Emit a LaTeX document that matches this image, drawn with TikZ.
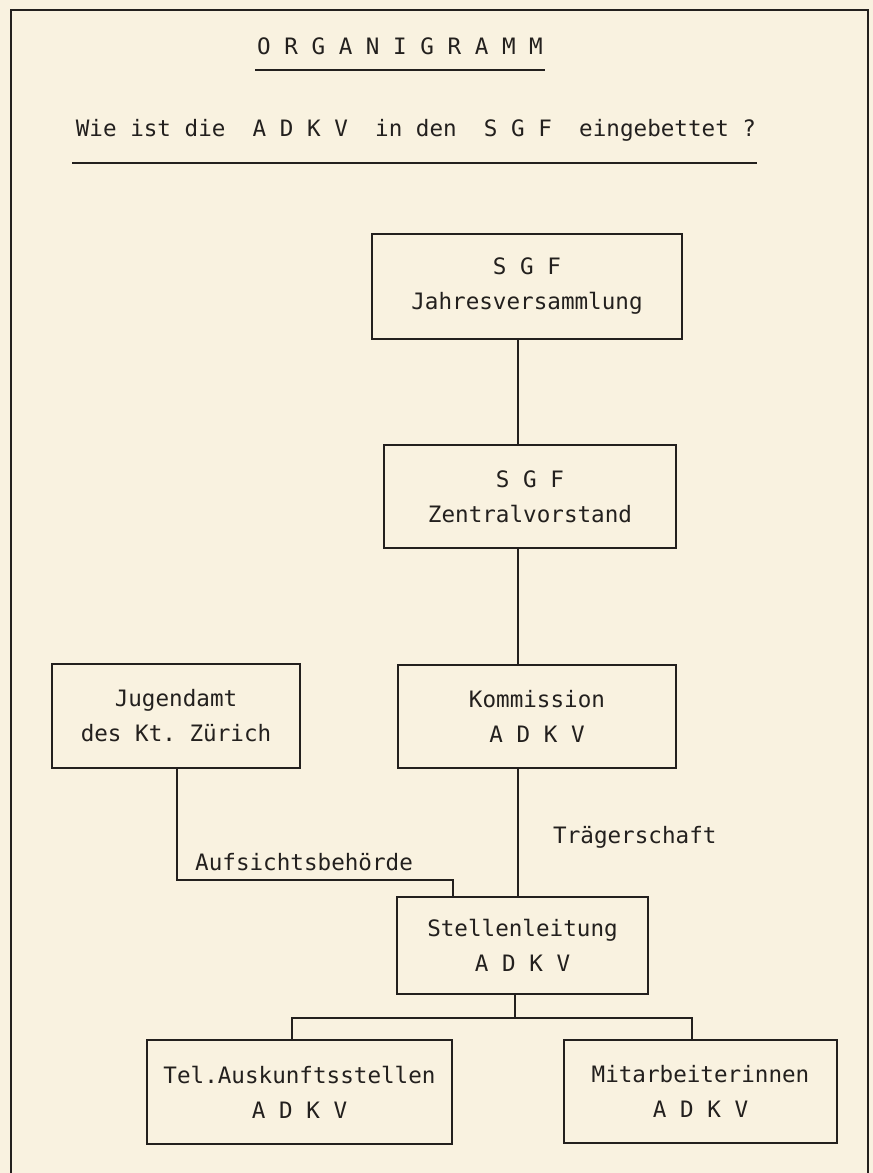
\documentclass[tikz,border=0pt]{standalone}
\usepackage{fontspec}
\newfontfamily\typewriter{DejaVu Sans Mono}
\definecolor{paper}{RGB}{249,242,224}
\definecolor{ink}{RGB}{35,32,30}
\tikzset{
  orgbox/.style={draw=ink, line width=1.6pt, inner sep=0pt, align=center},
  orgline/.style={draw=ink, line width=1.6pt},
  orglabel/.style={text=ink, inner sep=0pt, anchor=base west}
}

\begin{document}
\begin{tikzpicture}[x=1pt,y=-1pt,font=\typewriter\fontsize{22.6}{35}\selectfont\frenchspacing,text=ink]
% paper and frame
\fill[paper] (0,0) rectangle (873,1173);
\useasboundingbox (0,0) rectangle (873,1173);
\draw[orgline] (11,1173) -- (11,10) -- (868,10) -- (868,1173);

% heading
\node (titel) at (400,46) {O R G A N I G R A M M};
\draw[orgline] (255,70) -- (545,70);
\node (frage) at (416,130) {Wie ist die~ A D K V~ in den~ S G F~ eingebettet ?};
\draw[orgline] (72,163) -- (757,163);

% boxes
\node[orgbox, minimum width=310, minimum height=105] (jahres) at (527,286.5) {S G F\\Jahresversammlung};
\node[orgbox, minimum width=292, minimum height=103] (zentral) at (530,496.5) {S G F\\Zentralvorstand};
\node[orgbox, minimum width=278, minimum height=103] (komm) at (537,716.5) {Kommission\\A D K V};
\node[orgbox, minimum width=248, minimum height=104] (jugend) at (176,716) {Jugendamt\\des Kt. Zürich};
\node[orgbox, minimum width=251, minimum height=97] (stelle) at (522.5,945.5) {Stellenleitung\\A D K V};
\node[orgbox, minimum width=305, minimum height=104] (tel) at (299.5,1092) {Tel.Auskunftsstellen\\A D K V};
\node[orgbox, minimum width=273, minimum height=103] (mitarb) at (700.5,1091.5) {Mitarbeiterinnen\\A D K V};

% connectors
\coordinate (spine) at (518,0);
\coordinate (aufsL) at (177,880);
\coordinate (aufsR) at (453,880);
\coordinate (fork) at (515,1018);
\coordinate (forkL) at (292,1018);
\coordinate (forkR) at (692,1018);
\draw[orgline] (jahres.south -| spine) -- (zentral.north -| spine);
\draw[orgline] (zentral.south -| spine) -- (komm.north -| spine);
\draw[orgline] (komm.south -| spine) -- (stelle.north -| spine);
\draw[orgline] (jugend.south -| aufsL) -- (aufsL) -- (aufsR) -- (stelle.north -| aufsR);
\draw[orgline] (stelle.south -| fork) -- (fork);
\draw[orgline] (tel.north -| forkL) -- (forkL) -- (forkR) -- (mitarb.north -| forkR);

% labels
\node[orglabel] (aufsicht) at (195,870) {Aufsichtsbehörde};
\node[orglabel] (traeger) at (553,843) {Trägerschaft};
\end{tikzpicture}
\end{document}
